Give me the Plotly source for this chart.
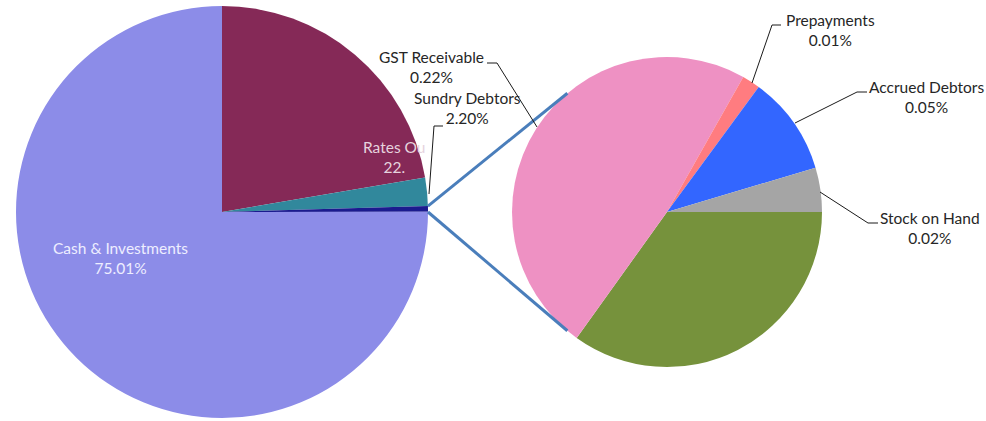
import math
import plotly.graph_objects as go

# main pie
main_labels = ["Rates Outstanding", "Sundry Debtors", "Other", "Cash & Investments"]
main_values = [22.33, 2.20, 0.455, 75.01]
main_colors = ["#852957", "#31889C", "#1B1B8E", "#8C8CE8"]

# breakdown of "Other"
sub_labels = ["Other Debtors", "GST Receivable", "Prepayments", "Accrued Debtors", "Stock on Hand"]
sub_values = [0.159, 0.22, 0.0086, 0.047, 0.021]
sub_colors = ["#76923C", "#EE91C3", "#FF7C80", "#3366FF", "#A5A5A5"]

W, H = 986, 421
FONT = "Lato, 'Open Sans', sans-serif"

# pie geometry in pixels
L_CX, L_CY, L_R = 222, 212, 206
R_CX, R_CY, R_R = 667, 212, 155


def px(x):
    return x / W


def py(y):
    return 1 - y / H


fig = go.Figure()
fig.add_trace(go.Pie(
    labels=main_labels, values=main_values, sort=False, direction="clockwise",
    rotation=0, marker=dict(colors=main_colors, line=dict(width=0)),
    textinfo="none", hoverinfo="label+percent",
    domain=dict(x=[px(L_CX - L_R), px(L_CX + L_R)], y=[py(L_CY + L_R), py(L_CY - L_R)]),
))
fig.add_trace(go.Pie(
    labels=sub_labels, values=sub_values, sort=False, direction="clockwise",
    rotation=90, marker=dict(colors=sub_colors, line=dict(width=0)),
    textinfo="none", hoverinfo="label+value",
    domain=dict(x=[px(R_CX - R_R), px(R_CX + R_R)], y=[py(R_CY + R_R), py(R_CY - R_R)]),
))

# connector lines between the "Other" slice and the second pie
other_deg = main_values[2] / sum(main_values) * 360
shapes = []
for a_left, a_right in [(other_deg, 130), (0, 230)]:
    x0 = L_CX + L_R * math.cos(math.radians(a_left))
    y0 = L_CY - L_R * math.sin(math.radians(a_left))
    x1 = R_CX + R_R * math.cos(math.radians(a_right))
    y1 = R_CY - R_R * math.sin(math.radians(a_right))
    shapes.append(dict(type="line", xref="paper", yref="paper",
                       x0=px(x0), y0=py(y0), x1=px(x1), y1=py(y1),
                       line=dict(color="#4A7EBB", width=3)))

# leader lines (pixel paths)
leaders = [
    [(487, 63), (497, 63), (537, 127)],   # GST
    [(443, 126), (434, 126), (429, 194)],  # Sundry
    [(781, 25), (772, 25), (752, 83)],    # Prepayments
    [(867, 92), (857, 92), (795, 123)],   # Accrued
    [(878, 223), (868, 223), (820, 192)],  # Stock
]
for pts in leaders:
    path = "M " + " L ".join(f"{px(x)},{py(y)}" for x, y in pts)
    shapes.append(dict(type="path", xref="paper", yref="paper", path=path,
                       line=dict(color="#1a1a1a", width=1)))

annotations = []


def label(text, x, y, color="#262626", xanchor="center"):
    annotations.append(dict(text=text, x=px(x), y=py(y), xref="paper", yref="paper",
                            showarrow=False, xanchor=xanchor, yanchor="middle",
                            font=dict(family=FONT, size=15.5, color=color)))


label(f"{main_labels[3]}<br>{main_values[3]:.2f}%", 120, 258, color="#EEEEFF")
# label is cut off by the pie edge in the original
label(f"{main_labels[0][:8]}<br>{main_values[0]:.2f}%"[:15], 428, 157, color="#E6D3DE", xanchor="right")
label(f"{sub_labels[1]}<br>{sub_values[1]:.2f}%", 431, 67)
label(f"{main_labels[1]}<br>{main_values[1]:.2f}%", 467, 108)
label(f"{sub_labels[2]}<br>{sub_values[2]:.2f}%", 830, 30)
label(f"{sub_labels[3]}<br>{sub_values[3]:.2f}%", 926, 97)
label(f"{sub_labels[4]}<br>{sub_values[4]:.2f}%", 930, 228)

fig.update_layout(
    width=W, height=H, margin=dict(l=0, r=0, t=0, b=0),
    showlegend=False, paper_bgcolor="white", plot_bgcolor="white",
    shapes=shapes, annotations=annotations,
)

fig.write_html("out.html", config={"displayModeBar": False},
               post_script="document.body.style.margin='0';")
